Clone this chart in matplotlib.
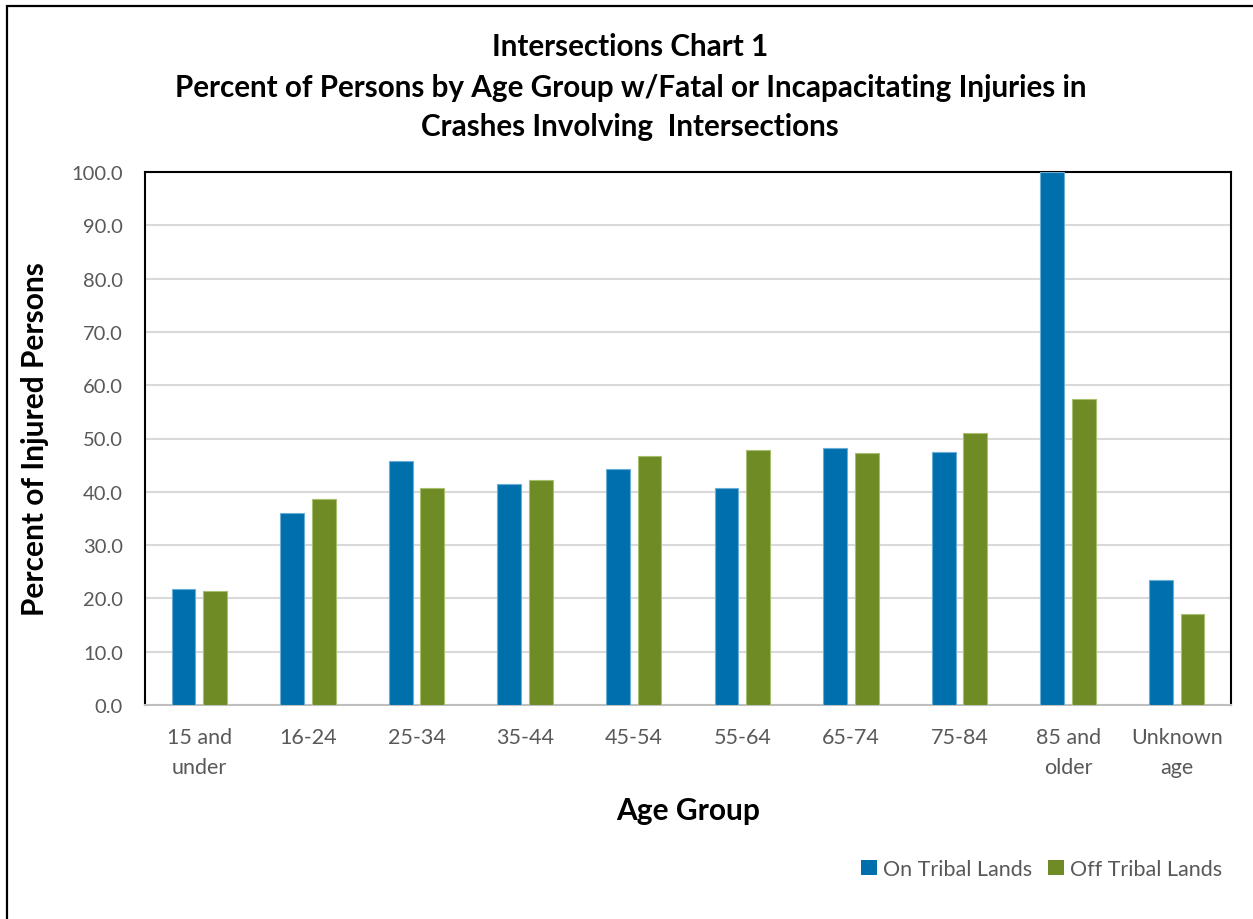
import numpy as np
import matplotlib
matplotlib.use("Agg")
from matplotlib import pyplot as plt
from matplotlib.patches import Rectangle, Patch

plt.rcParams['font.family'] = ['Lato', 'DejaVu Sans']

# age groups and percentages
age_groups = ["15 and\nunder", "16-24", "25-34", "35-44", "45-54",
              "55-64", "65-74", "75-84", "85 and\nolder", "Unknown\nage"]
on_tribal = [21.7, 36.0, 45.7, 41.5, 44.3, 40.8, 48.2, 47.4, 100.0, 23.4]
off_tribal = [21.3, 38.7, 40.8, 42.2, 46.7, 47.9, 47.2, 51.0, 57.4, 17.0]
series_names = ["On Tribal Lands", "Off Tribal Lands"]

blue = "#0070ad"
green = "#6e8b25"
grey_text = "#595959"

fig = plt.figure(figsize=(12.53, 9.2), dpi=100)
ax = fig.add_axes([145 / 1253, 1 - 706 / 920, (1231 - 145) / 1253, (706 - 173) / 920])

x = np.arange(len(age_groups))
w = 0.22
off = 0.145
ax.bar(x - off, on_tribal, w, color=blue, edgecolor="#6aaed6", linewidth=0.8, zorder=3)
ax.bar(x + off, off_tribal, w, color=green, edgecolor="#a9bf70", linewidth=0.8, zorder=3)

ax.set_xlim(-0.5, len(age_groups) - 0.5)
ax.set_ylim(0, 100)
ax.set_yticks(np.arange(0, 101, 10))
ax.set_yticklabels([f"{v:.1f}" for v in np.arange(0, 101, 10)])
ax.set_xticks(x)
ax.set_xticklabels(age_groups, linespacing=1.6)
ax.tick_params(axis="both", length=0, labelsize=15.5, colors=grey_text)
ax.tick_params(axis="y", labelsize=14.5, pad=16)
ax.tick_params(axis="x", pad=16)
ax.grid(axis="y", color="#d9d9d9", linewidth=1.5, zorder=0)

for side in ["left", "top", "right"]:
    ax.spines[side].set_color("black")
    ax.spines[side].set_linewidth(1.5)
ax.spines["bottom"].set_color("#bfbfbf")
ax.spines["bottom"].set_linewidth(1.5)

ax.set_xlabel("Age Group", fontsize=21.5, fontweight="bold", labelpad=14)
ax.yaxis.set_label_coords(-96 / (1231 - 145), 0.5)
ax.set_ylabel("Percent of Injured Persons", fontsize=21.5, fontweight="bold")

title_lines = ["Intersections Chart 1",
               "Percent of Persons by Age Group w/Fatal or Incapacitating Injuries in",
               "Crashes Involving  Intersections"]
for line, y_px in zip(title_lines, [47, 88, 127]):
    fig.text(0.503, 1 - y_px / 920, line, ha="center", va="center",
             fontsize=21.3, fontweight="bold")

handles = [Patch(facecolor=blue), Patch(facecolor=green)]
fig.legend(handles, series_names, loc="center right",
           bbox_to_anchor=(1231 / 1253, 1 - 870 / 920), ncol=2, frameon=False,
           fontsize=15.5, handlelength=0.75, handleheight=0.75, handletextpad=0.3,
           columnspacing=0.7, labelcolor=grey_text, borderaxespad=0)

# outer chart border
fig.patches.append(Rectangle((7 / 1253, -0.05), 1.1, 1.05 - 7 / 920,
                             transform=fig.transFigure, fill=False,
                             edgecolor="black", linewidth=1.6))

fig.savefig("out.png", dpi=100)
